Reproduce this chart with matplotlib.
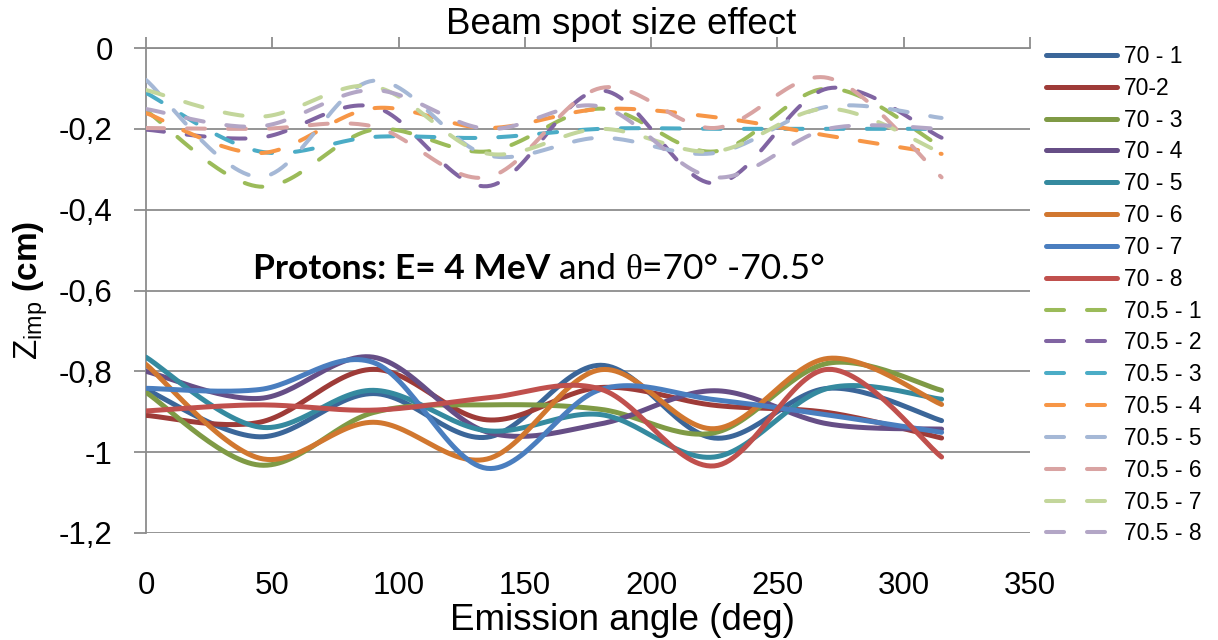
import numpy as np
import matplotlib
matplotlib.use("Agg")
import matplotlib.pyplot as plt

plt.rcParams['font.family'] = ['Liberation Sans', 'DejaVu Sans']
plt.rcParams['mathtext.fontset'] = 'custom'
plt.rcParams['mathtext.rm'] = 'Liberation Sans'
plt.rcParams['mathtext.bf'] = 'Liberation Sans:bold'
plt.rcParams['lines.scale_dashes'] = False

# ---------------- data ----------------
angles = [0, 45, 90, 135, 180, 225, 270, 315]

labels = ["70 - 1", "70-2", "70 - 3", "70 - 4", "70 - 5", "70 - 6", "70 - 7", "70 - 8",
          "70.5 - 1", "70.5 - 2", "70.5 - 3", "70.5 - 4", "70.5 - 5", "70.5 - 6", "70.5 - 7", "70.5 - 8"]

s70_1 = [-0.845, -0.962, -0.855, -0.963, -0.785, -0.965, -0.842, -0.922]
s70_2 = [-0.909, -0.926, -0.795, -0.920, -0.840, -0.884, -0.902, -0.965]
s70_3 = [-0.852, -1.032, -0.902, -0.883, -0.894, -0.952, -0.780, -0.847]
s70_4 = [-0.800, -0.867, -0.765, -0.950, -0.930, -0.848, -0.930, -0.943]
s70_5 = [-0.765, -0.938, -0.847, -0.947, -0.907, -1.012, -0.842, -0.869]
s70_6 = [-0.783, -1.015, -0.926, -1.017, -0.796, -0.942, -0.768, -0.882]
s70_7 = [-0.842, -0.845, -0.778, -1.040, -0.845, -0.870, -0.908, -0.951]
s70_8 = [-0.898, -0.883, -0.896, -0.866, -0.844, -1.034, -0.795, -1.012]

s705_1 = [-0.155, -0.343, -0.202, -0.256, -0.150, -0.256, -0.100, -0.245]
s705_2 = [-0.202, -0.222, -0.145, -0.342, -0.105, -0.335, -0.100, -0.222]
s705_3 = [-0.111, -0.256, -0.220, -0.222, -0.200, -0.200, -0.200, -0.200]
s705_4 = [-0.161, -0.260, -0.149, -0.198, -0.151, -0.171, -0.217, -0.262]
s705_5 = [-0.079, -0.319, -0.081, -0.265, -0.222, -0.260, -0.145, -0.173]
s705_6 = [-0.198, -0.200, -0.194, -0.320, -0.099, -0.198, -0.074, -0.320]
s705_7 = [-0.104, -0.170, -0.095, -0.261, -0.200, -0.256, -0.150, -0.260]
s705_8 = [-0.151, -0.194, -0.104, -0.200, -0.145, -0.320, -0.200, -0.200]

series = [s70_1, s70_2, s70_3, s70_4, s70_5, s70_6, s70_7, s70_8,
          s705_1, s705_2, s705_3, s705_4, s705_5, s705_6, s705_7, s705_8]

colors = ["#3B6699", "#9E3B38", "#7F9A45", "#664E86", "#358A9F", "#D1772F", "#4A7EBF", "#C0504D",
          "#9BBB59", "#8064A2", "#4BACC6", "#F79646", "#A5B8D6", "#D9A3A2", "#C3D69B", "#B3A6C6"]

yticks = [0, -0.2, -0.4, -0.6, -0.8, -1.0, -1.2]
ytick_labels = ["0", "-0,2", "-0,4", "-0,6", "-0,8", "-1", "-1,2"]
xticks = [0, 50, 100, 150, 200, 250, 300, 350]


def smooth(x, y, n=30):
    """Excel-like smoothing (uniform Catmull-Rom / Bezier with 1/6 tangents)."""
    x = np.asarray(x, float)
    y = np.asarray(y, float)
    P = np.column_stack([x, y])
    out = []
    m = len(P)
    for i in range(m - 1):
        p0 = P[i - 1] if i > 0 else P[i]
        p1 = P[i]
        p2 = P[i + 1]
        p3 = P[i + 2] if i + 2 < m else P[i + 1]
        c1 = p1 + (p2 - p0) / 6.0
        c2 = p2 - (p3 - p1) / 6.0
        t = np.linspace(0, 1, n, endpoint=(i == m - 2))[:, None]
        b = ((1 - t) ** 3) * p1 + 3 * ((1 - t) ** 2) * t * c1 + 3 * (1 - t) * t ** 2 * c2 + t ** 3 * p2
        out.append(b)
    out = np.vstack(out)
    return out[:, 0], out[:, 1]


W, H = 1218, 640
fig = plt.figure(figsize=(W / 100, H / 100), dpi=100)
ax = fig.add_axes([146 / W, 1 - 533 / H, (1030 - 146) / W, (533 - 48) / H])

handles = []
for i, (lab, vals, col) in enumerate(zip(labels, series, colors)):
    xs, ys = smooth(angles, vals)
    if i < 8:
        ln, = ax.plot(xs, ys, color=col, lw=3.6, solid_capstyle='round', label=lab, zorder=3)
    else:
        ln, = ax.plot(xs, ys, color=col, lw=2.9, dash_capstyle='round', label=lab, zorder=3,
                      linestyle=(0, (13.0, 16.5)))
    handles.append(ln)

ax.set_xlim(0, 350)
ax.set_ylim(-1.2, 0)
ax.set_yticks(yticks)
ax.set_yticklabels(ytick_labels)
ax.set_xticks(xticks)
ax.set_xticklabels([str(v) for v in xticks])

grid_col = "#8C8C8C"
for v in yticks:
    ax.axhline(v, color=grid_col, lw=1.3, zorder=1)

for s in ['right', 'bottom']:
    ax.spines[s].set_visible(False)
ax.spines['left'].set_color(grid_col)
ax.spines['left'].set_linewidth(1.3)
ax.spines['top'].set_color(grid_col)
ax.spines['top'].set_linewidth(1.3)

ax.tick_params(axis='x', top=True, bottom=False, labeltop=False, labelbottom=True,
               direction='out', length=8, width=1.3, color=grid_col, labelsize=22.5, pad=19.5)
ax.tick_params(axis='y', direction='out', length=9, width=1.3, color=grid_col, labelsize=22.5, pad=15)

ax.set_title("Beam spot size effect", fontsize=26.5, x=(621 - 146) / 884, pad=10)
ax.set_xlabel("Emission angle (deg)", fontsize=26.5, va='baseline')
ax.xaxis.set_label_coords((622 - 146) / 884, (533 - 630) / 485)
ax.set_ylabel(r"Z$_{\rm imp}$ $\bf{(cm)}$", fontsize=24)
ax.yaxis.set_label_coords((50 - 146) / 884, 0.5)

leg = fig.legend(handles=handles, labels=labels, loc='upper left',
                 bbox_to_anchor=(1046 / W, 1 - 45 / H), frameon=False,
                 fontsize=16.5, handlelength=3.1, handletextpad=0.3,
                 labelspacing=0.385, borderaxespad=0, borderpad=0)

# annotation with mixed styles
fig.canvas.draw()
renderer = fig.canvas.get_renderer()
fs_ann = 25.5
x0, y0 = 253 / W, 1 - 279 / H
t1 = fig.text(x0, y0, "Protons: E= 4 MeV", fontsize=fs_ann, fontweight='bold',
              family=['Lato', 'DejaVu Sans'], va='baseline', ha='left')
bb = t1.get_window_extent(renderer)
x1 = bb.x1 / fig.bbox.width
t2 = fig.text(x1, y0, " and ", fontsize=fs_ann, family=['Lato', 'DejaVu Sans'], va='baseline', ha='left')
bb = t2.get_window_extent(renderer)
x2 = bb.x1 / fig.bbox.width
t3 = fig.text(x2, y0, "θ", fontsize=fs_ann, family=['Liberation Serif', 'DejaVu Serif'], va='baseline', ha='left')
bb = t3.get_window_extent(renderer)
x3 = bb.x1 / fig.bbox.width
t4 = fig.text(x3, y0, "=70° -70.5°", fontsize=fs_ann, family=['Lato', 'DejaVu Sans'], va='baseline', ha='left')

fig.savefig("out.png", dpi=100)
